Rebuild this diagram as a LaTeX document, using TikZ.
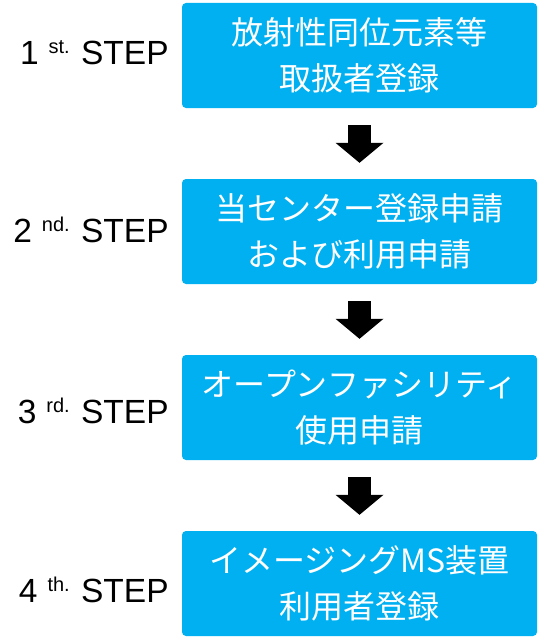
\documentclass[tikz,border=0pt]{standalone}
\usepackage{fontspec}
\setmainfont{Liberation Sans}
\newfontfamily\jpfont{Noto Sans CJK JP}
\usetikzlibrary{arrows.meta}
\usetikzlibrary{positioning}
\definecolor{boxblue}{HTML}{00B0F0}
\newcommand{\stepno}[2]{#1\hspace{10pt}\raisebox{11pt}{\fontsize{20}{20}\selectfont #2}\hspace{2pt} STEP}

\begin{document}
\begin{tikzpicture}[x=1pt, y=-1pt,
		stepbox/.style={rectangle, rounded corners=4pt, fill=boxblue, text=white, minimum width=355pt, minimum height=105pt, inner sep=0pt, align=center, font=\jpfont\fontsize{32}{46}\selectfont},
		steplabel/.style={anchor=base east, inner sep=0pt, font=\fontsize{33.5}{40}\selectfont},
		flow/.style={line width=23pt, -{Triangle[width=48pt, length=20pt, line width=0pt]}, shorten <=17pt, shorten >=16pt},
		node distance=176pt, on grid] 
		\useasboundingbox (0,0) rectangle (543,642);
		\node[stepbox] (s1) at (359.5,55.5) {放射性同位元素等\\取扱者登録};
		\node[stepbox] (s2) [below=of s1] {当センター登録申請\\および利用申請};
		\node[stepbox] (s3) [below=of s2] {オープンファシリティ\\使用申請};
		\node[stepbox] (s4) [below=of s3] {イメージングMS装置\\利用者登録};
		\node[steplabel] (l1) at ([xshift=-13pt, yshift=-8.5pt]s1.west) {\stepno{1}{st.}};
		\node[steplabel] (l2) at ([xshift=-13pt, yshift=-10.5pt]s2.west) {\stepno{2}{nd.}};
		\node[steplabel] (l3) at ([xshift=-13pt, yshift=-15.5pt]s3.west) {\stepno{3}{rd.}};
		\node[steplabel] (l4) at ([xshift=-13pt, yshift=-18.5pt]s4.west) {\stepno{4}{th.}};
		\draw[flow] (s1) -- (s2);
		\draw[flow] (s2) -- (s3);
		\draw[flow] (s3) -- (s4);
	\end{tikzpicture}
\end{document}
